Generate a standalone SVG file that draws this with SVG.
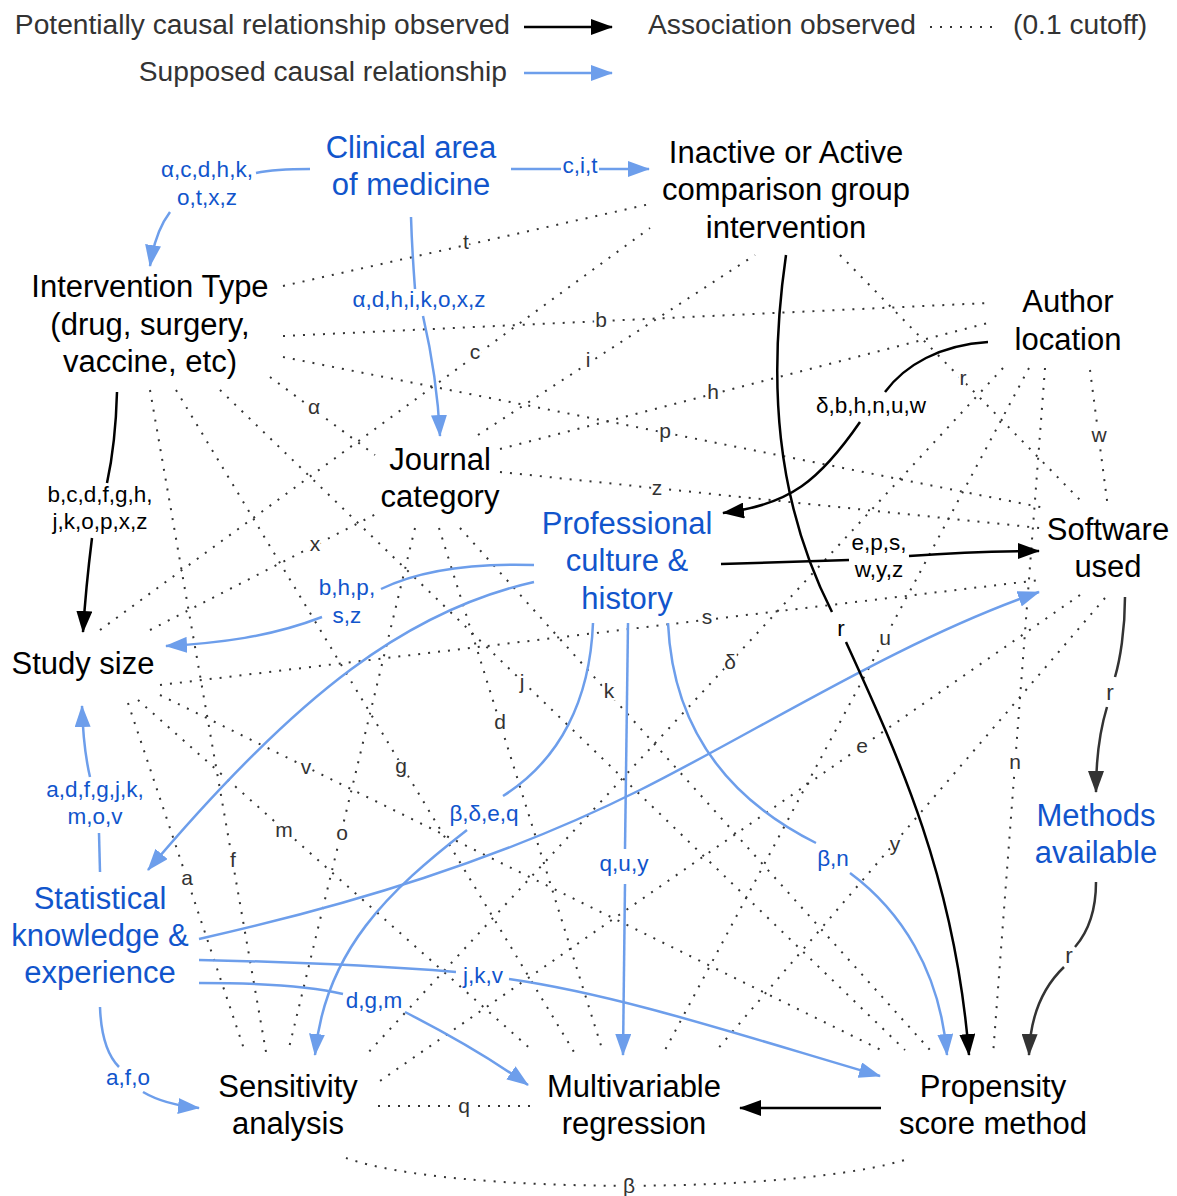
<svg xmlns="http://www.w3.org/2000/svg" width="1177" height="1196" viewBox="0 0 1177 1196">
<defs>
<style>
text{font-family:"Liberation Sans",Arial,Helvetica,sans-serif}
.n{font-size:31px;text-anchor:middle;fill:#000}
.nb{fill:#1155cc}
.lg{font-size:28.2px;fill:#333}
.el{font-size:22.5px;text-anchor:middle;fill:#000}
.elb{fill:#1155cc}
.elg{fill:#333}
.dl{font-size:21px;fill:#333;text-anchor:middle;stroke:#fff;stroke-width:5px;paint-order:stroke;stroke-linejoin:round}
.dot{stroke:#333;stroke-width:2;stroke-dasharray:2 8;fill:none}
.k{stroke:#000;stroke-width:2.5;fill:none}
.b{stroke:#6d9eeb;stroke-width:2.5;fill:none}
.g{stroke:#333;stroke-width:2.5;fill:none}
.ka{marker-end:url(#ak)}
.ba{marker-end:url(#ab)}
.ga{marker-end:url(#ag)}
</style>
<marker id="ak" markerUnits="userSpaceOnUse" markerWidth="22" markerHeight="16" refX="21" refY="8" orient="auto"><path d="M0,0 L22,8 L0,16 z" fill="#000"/></marker>
<marker id="ab" markerUnits="userSpaceOnUse" markerWidth="22" markerHeight="16" refX="21" refY="8" orient="auto"><path d="M0,0 L22,8 L0,16 z" fill="#6d9eeb"/></marker>
<marker id="ag" markerUnits="userSpaceOnUse" markerWidth="22" markerHeight="16" refX="21" refY="8" orient="auto"><path d="M0,0 L22,8 L0,16 z" fill="#333"/></marker>
</defs>
<rect width="1177" height="1196" fill="#fff"/>

<!-- legend -->
<g id="legend">
<text class="lg" x="510" y="34" text-anchor="end">Potentially causal relationship observed</text>
<path class="k ka" d="M524,27 L612,27"/>
<text class="lg" x="648" y="34">Association observed</text>
<path class="dot" d="M930,27 L995,27"/>
<text class="lg" x="1013" y="34">(0.1 cutoff)</text>
<text class="lg" x="507" y="81" text-anchor="end">Supposed causal relationship</text>
<path class="b ba" d="M524,73 L612,73"/>
</g>

<!-- associations (dotted) -->
<g id="associations">
<path class="dot" d="M283,286 L650,204"/>
<path class="dot" d="M283,336 L988,303"/>
<path class="dot" d="M100,630 L650,228"/>
<path class="dot" d="M478,435 L755,255"/>
<path class="dot" d="M500,449 L988,323"/>
<path class="dot" d="M283,357 L1045,508"/>
<path class="dot" d="M270,377 L375,455"/>
<path class="dot" d="M500,472 L1040,528"/>
<path class="dot" d="M840,255 L1080,500"/>
<path class="dot" d="M1090,370 L1108,508"/>
<path class="dot" d="M150,630 L378,513"/>
<path class="dot" d="M160,685 L1040,580"/>
<path class="dot" d="M1029,368 L664,1052"/>
<path class="dot" d="M1003,368 L366,1055"/>
<path class="dot" d="M1045,368 L993,1055"/>
<path class="dot" d="M1080,595 L377,1083"/>
<path class="dot" d="M1105,598 L715,1052"/>
<path class="dot" d="M220,390 L905,1050"/>
<path class="dot" d="M460,528 L930,1050"/>
<path class="dot" d="M439,528 L603,1052"/>
<path class="dot" d="M176,390 L574,1052"/>
<path class="dot" d="M138,700 L534,1052"/>
<path class="dot" d="M160,695 L881,1050"/>
<path class="dot" d="M415,528 L288,1052"/>
<path class="dot" d="M150,390 L266,1052"/>
<path class="dot" d="M128,703 L245,1052"/>
<path class="dot" d="M378,1106 L530,1106"/>
<path class="dot" d="M346,1158 C450,1195 800,1195 911,1158"/>
<text class="dl" x="466" y="249">t</text>
<text class="dl" x="601" y="327">b</text>
<text class="dl" x="475" y="359">c</text>
<text class="dl" x="588" y="367">i</text>
<text class="dl" x="713" y="399">h</text>
<text class="dl" x="665" y="438">p</text>
<text class="dl" x="314" y="414">α</text>
<text class="dl" x="657" y="495">z</text>
<text class="dl" x="963" y="385">r</text>
<text class="dl" x="1099" y="442">w</text>
<text class="dl" x="315" y="551">x</text>
<text class="dl" x="707" y="624">s</text>
<text class="dl" x="885" y="645">u</text>
<text class="dl" x="730" y="669">δ</text>
<text class="dl" x="1015" y="769">n</text>
<text class="dl" x="862" y="753">e</text>
<text class="dl" x="895" y="851">y</text>
<text class="dl" x="522" y="689">j</text>
<text class="dl" x="609" y="698">k</text>
<text class="dl" x="500" y="729">d</text>
<text class="dl" x="401" y="773">g</text>
<text class="dl" x="284" y="837">m</text>
<text class="dl" x="306" y="774">v</text>
<text class="dl" x="342" y="840">o</text>
<text class="dl" x="233" y="867">f</text>
<text class="dl" x="187" y="885">a</text>
<text class="dl" x="464" y="1113">q</text>
<text class="dl" x="629" y="1193">β</text>
</g>

<!-- causal connectors -->
<g id="connectors">
<!-- supposed (blue) -->
<path class="b" d="M310,169 C290,169 270,170 256,173"/>
<path class="b ba" d="M170,212 Q155,232 150,266"/>
<text class="el elb" x="207" y="177">α,c,d,h,k,</text>
<text class="el elb" x="207" y="205">o,t,x,z</text>

<path class="b" d="M511,169 L561,169"/>
<path class="b ba" d="M599,169 L649,169"/>
<text class="el elb" x="580" y="173">c,i,t</text>

<path class="b" d="M411,217 C412,250 414,275 415,289"/>
<path class="b ba" d="M423,316 C432,355 438,395 440,436"/>
<text class="el elb" x="419" y="307">α,d,h,i,k,o,x,z</text>

<path class="b" d="M534,565 C470,563 420,570 381,589"/>
<path class="b ba" d="M322,617 C270,637 220,643 166,646"/>
<text class="el elb" x="347" y="595">b,h,p,</text>
<text class="el elb" x="347" y="623">s,z</text>

<path class="b ba" d="M534,582 C410,610 300,690 148,870"/>

<path class="b" d="M593,623 C590,700 560,760 503,796"/>
<path class="b ba" d="M467,830 C390,890 325,950 315,1055"/>
<text class="el elb" x="484" y="821">β,δ,e,q</text>

<path class="b" d="M628,623 L625,849"/>
<path class="b ba" d="M625,884 L623,1055"/>
<text class="el elb" x="624" y="871">q,u,y</text>

<path class="b" d="M668,623 C672,710 710,790 816,843"/>
<path class="b ba" d="M850,873 C900,910 940,970 947,1055"/>
<text class="el elb" x="833" y="866">β,n</text>

<path class="b ba" d="M199,939 C350,905 500,860 640,790 C760,730 900,640 1039,592"/>

<path class="b" d="M199,960 C300,962 380,966 456,972"/>
<path class="b ba" d="M509,979 C620,995 740,1035 880,1076"/>
<text class="el elb" x="483" y="983">j,k,v</text>

<path class="b" d="M199,983 C260,983 310,986 343,994"/>
<path class="b ba" d="M405,1012 C450,1035 490,1058 528,1085"/>
<text class="el elb" x="374" y="1008">d,g,m</text>

<path class="b" d="M100,1007 C101,1035 107,1055 119,1067"/>
<path class="b ba" d="M143,1092 C160,1102 178,1106 199,1108"/>
<text class="el elb" x="128" y="1085">a,f,o</text>

<path class="b" d="M100,872 L99,833"/>
<path class="b ba" d="M90,777 C86,760 83,740 82,706"/>
<text class="el elb" x="95" y="797">a,d,f,g,j,k,</text>
<text class="el elb" x="95" y="824">m,o,v</text>

<!-- observed (black / dark grey) -->
<path class="k" d="M117,392 C116,430 112,460 107,483"/>
<path class="k ka" d="M92,538 C88,570 85,600 83,632"/>
<text class="el" x="100" y="502">b,c,d,f,g,h,</text>
<text class="el" x="100" y="529">j,k,o,p,x,z</text>

<path class="k" d="M786,255 C768,380 775,500 832,612"/>
<path class="k ka" d="M846,642 C900,760 955,880 969,1055"/>
<text class="el" x="841" y="636">r</text>

<path class="k" d="M988,342 C940,345 905,365 885,392"/>
<path class="k ka" d="M860,422 C820,480 790,505 723,513"/>
<text class="el" x="871" y="413">δ,b,h,n,u,w</text>

<path class="k" d="M721,564 L849,560"/>
<path class="k ka" d="M909,556 C950,553 990,551 1039,551"/>
<text class="el" x="879" y="550">e,p,s,</text>
<text class="el" x="879" y="577">w,y,z</text>

<path class="g" d="M1125,597 C1125,630 1120,660 1115,677"/>
<path class="g ga" d="M1107,707 C1100,730 1096,760 1096,792"/>
<text class="el elg" x="1110" y="700">r</text>

<path class="g" d="M1096,882 C1096,910 1088,932 1075,947"/>
<path class="g ga" d="M1064,967 C1040,990 1030,1020 1029,1055"/>
<text class="el elg" x="1069" y="963">r</text>

<path class="k ka" d="M881,1108 L740,1108"/>
</g>

<!-- nodes -->
<g id="clinical-area"><text class="n nb" x="411" y="158">Clinical area</text><text class="n nb" x="411" y="195">of medicine</text></g>
<g id="comparison-group"><text class="n" x="786" y="163">Inactive or Active</text><text class="n" x="786" y="200">comparison group</text><text class="n" x="786" y="238">intervention</text></g>
<g id="intervention-type"><text class="n" x="150" y="297">Intervention Type</text><text class="n" x="150" y="335">(drug, surgery,</text><text class="n" x="150" y="372">vaccine, etc)</text></g>
<g id="author-location"><text class="n" x="1068" y="312">Author</text><text class="n" x="1068" y="350">location</text></g>
<g id="journal-category"><text class="n" x="440" y="470">Journal</text><text class="n" x="440" y="507">category</text></g>
<g id="professional-culture"><text class="n nb" x="627" y="534">Professional</text><text class="n nb" x="627" y="571">culture &amp;</text><text class="n nb" x="627" y="609">history</text></g>
<g id="software-used"><text class="n" x="1108" y="540">Software</text><text class="n" x="1108" y="577">used</text></g>
<g id="study-size"><text class="n" x="83" y="674">Study size</text></g>
<g id="methods-available"><text class="n nb" x="1096" y="826">Methods</text><text class="n nb" x="1096" y="863">available</text></g>
<g id="statistical-knowledge"><text class="n nb" x="100" y="909">Statistical</text><text class="n nb" x="100" y="946">knowledge &amp;</text><text class="n nb" x="100" y="983">experience</text></g>
<g id="sensitivity-analysis"><text class="n" x="288" y="1097">Sensitivity</text><text class="n" x="288" y="1134">analysis</text></g>
<g id="multivariable-regression"><text class="n" x="634" y="1097">Multivariable</text><text class="n" x="634" y="1134">regression</text></g>
<g id="propensity-score"><text class="n" x="993" y="1097">Propensity</text><text class="n" x="993" y="1134">score method</text></g>
</svg>
